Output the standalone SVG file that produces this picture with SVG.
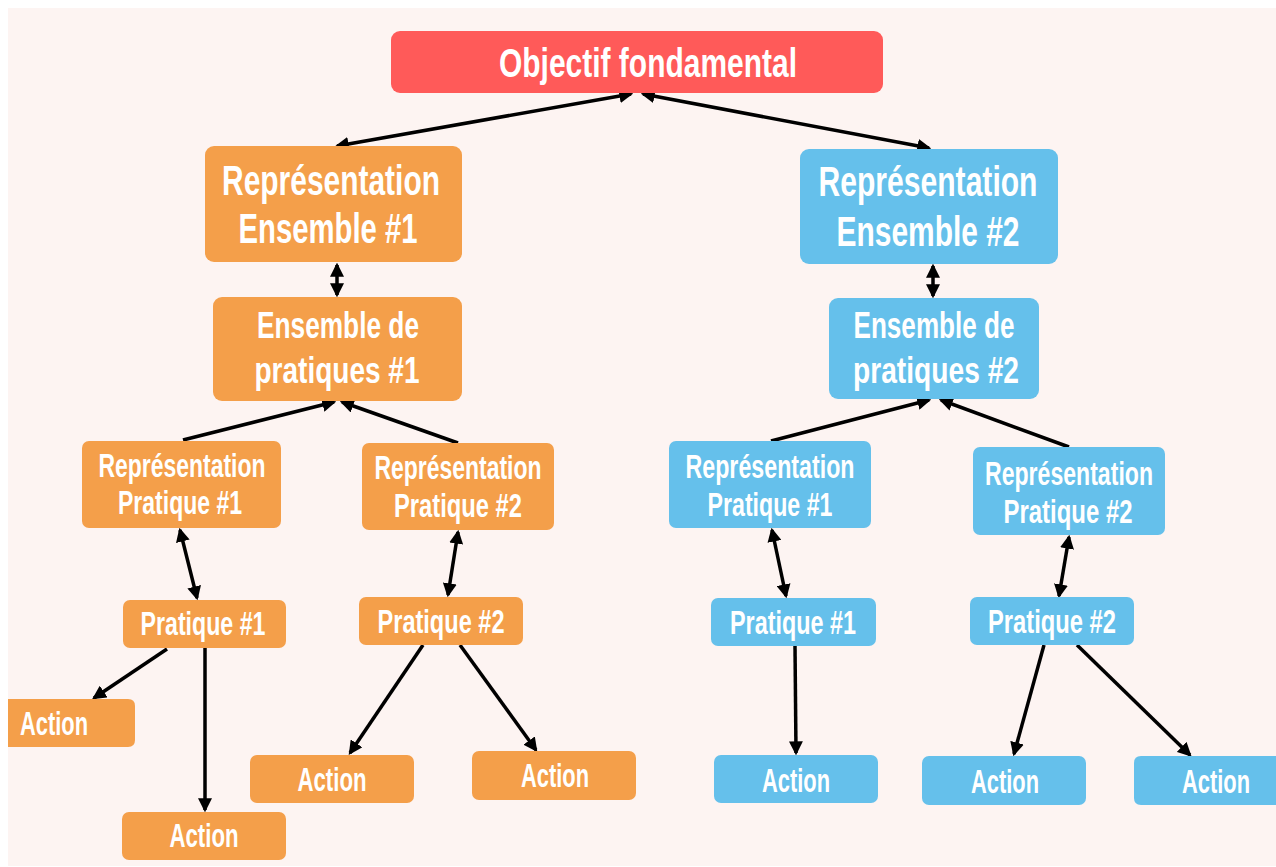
<svg xmlns="http://www.w3.org/2000/svg" width="1276" height="867" viewBox="0 0 1276 867">
<defs>
<marker id="ah" viewBox="0 0 12 12" refX="10" refY="6" markerWidth="14" markerHeight="14" markerUnits="userSpaceOnUse" orient="auto-start-reverse">
<path d="M0,0 L12,6 L0,12 z" fill="#000"/>
</marker>
<style>
.bg{fill:#fdf4f2}
.red{fill:#ff5a59}
.org{fill:#f49f4a}
.blu{fill:#65c0eb}
text{font-family:"Liberation Sans","DejaVu Sans",sans-serif;font-weight:bold;fill:#fff;text-anchor:middle}
.t40{font-size:41px}
.t41{font-size:42px}
.t35{font-size:36px}
.t33{font-size:33px}
.c{stroke:#000;stroke-width:3.5;fill:none}
.d{marker-start:url(#ah);marker-end:url(#ah)}
.e{marker-end:url(#ah)}
</style>
</defs>
<rect x="0" y="0" width="1276" height="867" fill="#ffffff"/>
<rect class="bg" x="8" y="8" width="1268" height="858"/>

<g id="connectors">
<line class="c d" x1="631" y1="94" x2="337" y2="146"/>
<line class="c d" x1="643" y1="94" x2="929" y2="148"/>
<line class="c d" x1="337" y1="265" x2="337" y2="295"/>
<line class="c d" x1="933" y1="266" x2="933" y2="296"/>
<line class="c e" x1="183" y1="440" x2="334" y2="402"/>
<line class="c e" x1="458" y1="443" x2="342" y2="402"/>
<line class="c e" x1="771" y1="441" x2="929" y2="400"/>
<line class="c e" x1="1069" y1="447" x2="941" y2="400"/>
<line class="c d" x1="180" y1="530" x2="197" y2="598"/>
<line class="c d" x1="458" y1="532" x2="448" y2="595"/>
<line class="c d" x1="772" y1="530" x2="786" y2="596"/>
<line class="c d" x1="1069" y1="537" x2="1059" y2="596"/>
<line class="c e" x1="167" y1="649" x2="94" y2="698"/>
<line class="c e" x1="205" y1="648" x2="205" y2="810"/>
<line class="c e" x1="423" y1="645" x2="350" y2="753"/>
<line class="c e" x1="460" y1="645" x2="536" y2="750"/>
<line class="c e" x1="795" y1="646" x2="796" y2="753"/>
<line class="c e" x1="1044" y1="645" x2="1014" y2="754"/>
<line class="c e" x1="1077" y1="645" x2="1190" y2="755"/>
</g>

<g id="objectif">
<rect class="red" x="391" y="31" width="492" height="62" rx="9"/>
<text class="t40" x="648" y="77" textLength="298" lengthAdjust="spacingAndGlyphs">Objectif fondamental</text>
</g>

<g id="rep-ens-1">
<rect class="org" x="205" y="146" width="257" height="116" rx="9"/>
<text class="t41" x="331" y="195" textLength="218" lengthAdjust="spacingAndGlyphs">Représentation</text>
<text class="t41" x="328" y="243" textLength="179" lengthAdjust="spacingAndGlyphs">Ensemble #1</text>
</g>

<g id="rep-ens-2">
<rect class="blu" x="800" y="149" width="258" height="115" rx="9"/>
<text class="t41" x="928" y="196" textLength="219" lengthAdjust="spacingAndGlyphs">Représentation</text>
<text class="t41" x="928" y="246" textLength="183" lengthAdjust="spacingAndGlyphs">Ensemble #2</text>
</g>

<g id="ens-prat-1">
<rect class="org" x="213" y="297" width="249" height="104" rx="9"/>
<text class="t35" x="338" y="338" textLength="162" lengthAdjust="spacingAndGlyphs">Ensemble de</text>
<text class="t35" x="337" y="383" textLength="165" lengthAdjust="spacingAndGlyphs">pratiques #1</text>
</g>

<g id="ens-prat-2">
<rect class="blu" x="829" y="298" width="210" height="101" rx="9"/>
<text class="t35" x="934" y="338" textLength="161" lengthAdjust="spacingAndGlyphs">Ensemble de</text>
<text class="t35" x="936" y="383" textLength="166" lengthAdjust="spacingAndGlyphs">pratiques #2</text>
</g>

<g id="rep-prat-1-o">
<rect class="org" x="82" y="441" width="199" height="87" rx="7"/>
<text class="t33" x="182" y="477" textLength="167" lengthAdjust="spacingAndGlyphs">Représentation</text>
<text class="t33" x="180" y="514" textLength="124" lengthAdjust="spacingAndGlyphs">Pratique #1</text>
</g>

<g id="rep-prat-2-o">
<rect class="org" x="362" y="443" width="192" height="87" rx="7"/>
<text class="t33" x="458" y="479" textLength="167" lengthAdjust="spacingAndGlyphs">Représentation</text>
<text class="t33" x="458" y="517" textLength="128" lengthAdjust="spacingAndGlyphs">Pratique #2</text>
</g>

<g id="prat-1-o">
<rect class="org" x="123" y="600" width="163" height="48" rx="7"/>
<text class="t33" x="203" y="635" textLength="125" lengthAdjust="spacingAndGlyphs">Pratique #1</text>
</g>

<g id="prat-2-o">
<rect class="org" x="359" y="597" width="164" height="48" rx="7"/>
<text class="t33" x="441" y="633" textLength="127" lengthAdjust="spacingAndGlyphs">Pratique #2</text>
</g>

<g id="action-o-1">
<path class="org" d="M8,699 H128 Q135,699 135,706 V740 Q135,747 128,747 H8 Z"/>
<text class="t33" x="54" y="735" textLength="68" lengthAdjust="spacingAndGlyphs">Action</text>
</g>

<g id="action-o-2">
<rect class="org" x="122" y="812" width="164" height="48" rx="7"/>
<text class="t33" x="204" y="847" textLength="69" lengthAdjust="spacingAndGlyphs">Action</text>
</g>

<g id="action-o-3">
<rect class="org" x="250" y="755" width="164" height="48" rx="7"/>
<text class="t33" x="332" y="791" textLength="69" lengthAdjust="spacingAndGlyphs">Action</text>
</g>

<g id="action-o-4">
<rect class="org" x="472" y="751" width="164" height="49" rx="7"/>
<text class="t33" x="555" y="787" textLength="68" lengthAdjust="spacingAndGlyphs">Action</text>
</g>

<g id="rep-prat-1-b">
<rect class="blu" x="669" y="441" width="202" height="87" rx="7"/>
<text class="t33" x="770" y="478" textLength="169" lengthAdjust="spacingAndGlyphs">Représentation</text>
<text class="t33" x="770" y="516" textLength="125" lengthAdjust="spacingAndGlyphs">Pratique #1</text>
</g>

<g id="rep-prat-2-b">
<rect class="blu" x="973" y="447" width="192" height="88" rx="7"/>
<text class="t33" x="1069" y="485" textLength="168" lengthAdjust="spacingAndGlyphs">Représentation</text>
<text class="t33" x="1068" y="523" textLength="129" lengthAdjust="spacingAndGlyphs">Pratique #2</text>
</g>

<g id="prat-1-b">
<rect class="blu" x="711" y="598" width="165" height="48" rx="7"/>
<text class="t33" x="793" y="634" textLength="126" lengthAdjust="spacingAndGlyphs">Pratique #1</text>
</g>

<g id="prat-2-b">
<rect class="blu" x="970" y="597" width="164" height="48" rx="7"/>
<text class="t33" x="1052" y="633" textLength="128" lengthAdjust="spacingAndGlyphs">Pratique #2</text>
</g>

<g id="action-b-1">
<rect class="blu" x="714" y="755" width="164" height="48" rx="7"/>
<text class="t33" x="796" y="792" textLength="68" lengthAdjust="spacingAndGlyphs">Action</text>
</g>

<g id="action-b-2">
<rect class="blu" x="922" y="756" width="164" height="49" rx="7"/>
<text class="t33" x="1005" y="793" textLength="68" lengthAdjust="spacingAndGlyphs">Action</text>
</g>

<g id="action-b-3">
<path class="blu" d="M1141,756 H1276 V805 H1141 Q1134,805 1134,798 V763 Q1134,756 1141,756 Z"/>
<text class="t33" x="1216" y="793" textLength="68" lengthAdjust="spacingAndGlyphs">Action</text>
</g>
</svg>
